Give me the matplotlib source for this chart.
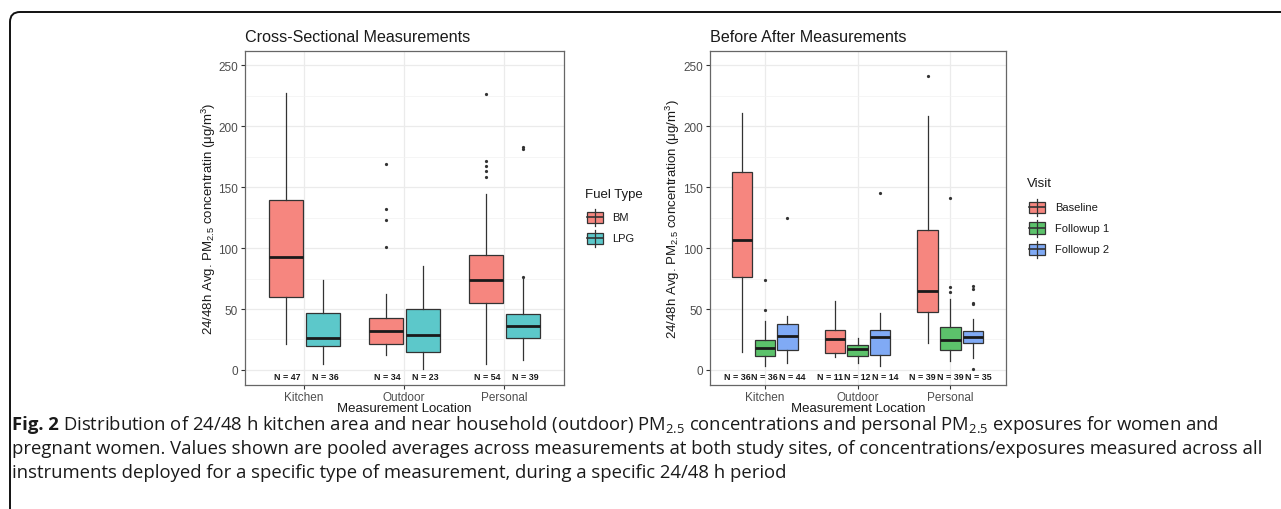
import matplotlib
matplotlib.use("Agg")
import matplotlib.pyplot as plt
from matplotlib.patches import FancyBboxPatch, Rectangle
from matplotlib.lines import Line2D

plt.rcParams["font.family"] = ["Liberation Sans", "DejaVu Sans"]
plt.rcParams["mathtext.default"] = "regular"

# ---- data: cross-sectional panel ----
locations = ["Kitchen", "Outdoor", "Personal"]
fuel_types = ["BM", "LPG"]

bm_whislo = [21, 12, 5]
bm_q1 = [60, 21, 55]
bm_med = [92.5, 32, 74]
bm_q3 = [139, 43, 94.5]
bm_whishi = [227, 62, 144]
bm_fliers = [[], [169, 132, 123, 101], [226.5, 171.5, 167.5, 163, 158]]
bm_n = [47, 34, 54]

lpg_whislo = [5, 0.5, 8]
lpg_q1 = [20, 14.5, 26]
lpg_med = [26.5, 28.5, 36.3]
lpg_q3 = [46.5, 50, 46]
lpg_whishi = [74, 85, 75]
lpg_fliers = [[], [], [182.5, 181, 76.5]]
lpg_n = [36, 23, 39]

# ---- data: before / after panel ----
visits = ["Baseline", "Followup 1", "Followup 2"]

base_whislo = [15, 11, 22.5]
base_q1 = [76, 13.7, 47.8]
base_med = [106.5, 25, 65]
base_q3 = [162, 32.5, 115]
base_whishi = [211, 56.5, 208]
base_fliers = [[], [], [241]]
base_n = [36, 11, 39]

f1_whislo = [3, 5.5, 7]
f1_q1 = [11.7, 11.2, 16.7]
f1_med = [18.3, 17.5, 24.6]
f1_q3 = [24.6, 20.5, 35]
f1_whishi = [40.5, 26.5, 58.5]
f1_fliers = [[74, 49.5], [], [141, 68, 64]]
f1_n = [36, 12, 39]

f2_whislo = [5.5, 3, 10]
f2_q1 = [16.7, 12.3, 22]
f2_med = [27.6, 26.8, 26.8]
f2_q3 = [38, 33, 32.2]
f2_whishi = [44, 46.7, 42]
f2_fliers = [[124.5], [144.8], [69, 66, 54.6, 53.8, 0.8]]
f2_n = [44, 14, 35]

# ggplot hues, already lightened like the alpha fill in the original
pink = "#F6867F"
teal = "#5CC8CA"
green = "#5CC26B"
blue = "#80AAF5"

W, H = 1281, 510


def fx(x):
    return x / W


def fy(y):
    return 1 - y / H


def stats(whislo, q1, med, q3, whishi, fliers):
    return [dict(whislo=a, q1=b, med=c, q3=d, whishi=e, fliers=f)
            for a, b, c, d, e, f in zip(whislo, q1, med, q3, whishi, fliers)]


def draw_panel(ax, groups, offsets, n_offsets, width, title, ylabel, ylab_x):
    xs = [1, 2, 3]
    for (st, col, ns), off, noff in zip(groups, offsets, n_offsets):
        pos = [x + off for x in xs]
        ax.bxp(st, positions=pos, widths=width, patch_artist=True,
               showcaps=False, manage_ticks=False,
               boxprops=dict(facecolor=col, edgecolor="#333333", linewidth=0.9),
               whiskerprops=dict(color="#333333", linewidth=0.9),
               medianprops=dict(color="#1a1a1a", linewidth=2.0),
               flierprops=dict(marker="o", markersize=1.3, markerfacecolor="#333333",
                               markeredgecolor="#333333", linestyle="none"))
        # sample sizes under each box
        for x, n in zip(xs, ns):
            ax.text(x + noff, -5, f"N = {n}", ha="center", va="center", fontsize=6.4,
                    fontweight="bold", color="#1a1a1a")
    ax.set_xlim(0.41, 3.6)
    ax.set_ylim(-12.3, 261.5)
    ax.set_xticks(xs)
    ax.set_xticklabels(locations)
    ax.set_yticks([0, 50, 100, 150, 200, 250])
    ax.set_yticks([25, 75, 125, 175, 225], minor=True)
    ax.tick_params(axis="both", which="major", labelsize=8.5, labelcolor="#4D4D4D",
                   color="#333333", length=3, width=0.8, pad=2)
    ax.tick_params(axis="x", which="major", pad=1.5)
    ax.tick_params(axis="y", which="minor", length=0)
    ax.grid(True, which="major", color="#EBEBEB", linewidth=0.9)
    ax.grid(True, which="minor", axis="y", color="#F2F2F2", linewidth=0.5)
    ax.set_axisbelow(True)
    for s in ax.spines.values():
        s.set_color("#666666")
        s.set_linewidth(0.9)
    ax.set_xlabel("Measurement Location", fontsize=9.5, color="#1a1a1a", labelpad=-1)
    ax.set_ylabel(ylabel, fontsize=9.5, color="#1a1a1a")
    ax.yaxis.set_label_coords(ylab_x, 0.5)
    ax.set_title(title, loc="left", fontsize=11.6, color="#1a1a1a", pad=7)


def legend_key(fig, x, y, col):
    # ggplot style boxplot key, x/y = pixel centre
    w, h = 16, 11
    fig.add_artist(Line2D([fx(x), fx(x)], [fy(y - h / 2 - 3), fy(y + h / 2 + 3)],
                          transform=fig.transFigure, color="#333333", lw=0.9))
    fig.add_artist(Rectangle((fx(x - w / 2), fy(y + h / 2)), w / W, h / H,
                             transform=fig.transFigure, facecolor=col,
                             edgecolor="#333333", lw=0.9))
    fig.add_artist(Line2D([fx(x - w / 2), fx(x + w / 2)], [fy(y), fy(y)],
                          transform=fig.transFigure, color="#333333", lw=1.2))


def main():
    fig = plt.figure(figsize=(W / 100, H / 100), dpi=100)

    # outer frame with rounded corner
    frame = FancyBboxPatch((fx(10), fy(560)), (W + 40) / W, 547 / H,
                           boxstyle=f"round,pad=0,rounding_size={10 / W}",
                           mutation_aspect=W / H, transform=fig.transFigure,
                           facecolor="none", edgecolor="#111111", lw=1.4, clip_on=False)
    fig.add_artist(frame)

    ax1 = fig.add_axes([fx(245), fy(386), (564 - 245) / W, (386 - 52) / H])
    ax2 = fig.add_axes([fx(710), fy(386), (1006 - 710) / W, (386 - 52) / H])

    cross = [
        (stats(bm_whislo, bm_q1, bm_med, bm_q3, bm_whishi, bm_fliers), pink, bm_n),
        (stats(lpg_whislo, lpg_q1, lpg_med, lpg_q3, lpg_whishi, lpg_fliers), teal, lpg_n),
    ]
    before = [
        (stats(base_whislo, base_q1, base_med, base_q3, base_whishi, base_fliers), pink, base_n),
        (stats(f1_whislo, f1_q1, f1_med, f1_q3, f1_whishi, f1_fliers), green, f1_n),
        (stats(f2_whislo, f2_q1, f2_med, f2_q3, f2_whishi, f2_fliers), blue, f2_n),
    ]
    draw_panel(ax1, cross, [-0.18, 0.19], [-0.17, 0.21], 0.34,
               "Cross-Sectional Measurements",
               "24/48h Avg. PM$_{2.5}$ concentratin (μg/m$^3$)", (218 - 245) / 319)
    draw_panel(ax2, before, [-0.245, 0.0, 0.245], [-0.30, 0.0, 0.30], 0.22,
               "Before After Measurements",
               "24/48h Avg. PM$_{2.5}$ concentration (μg/m$^3$)", (682 - 710) / 296)

    # legends
    fig.text(fx(585), fy(195), "Fuel Type", fontsize=9.5, color="#1a1a1a", va="center")
    for lab, col, y in zip(fuel_types, [pink, teal], [218, 239]):
        legend_key(fig, 595, y, col)
        fig.text(fx(612), fy(y), lab, fontsize=8, color="#1a1a1a", va="center")

    fig.text(fx(1027), fy(184), "Visit", fontsize=9.5, color="#1a1a1a", va="center")
    for lab, col, y in zip(visits, [pink, green, blue], [208, 229, 250]):
        legend_key(fig, 1037, y, col)
        fig.text(fx(1055), fy(y), lab, fontsize=8, color="#1a1a1a", va="center")

    # caption
    cap_font = ["Open Sans", "DejaVu Sans"]
    cap_size = 13.3
    renderer = fig.canvas.get_renderer()
    t = fig.text(fx(12), fy(430), "Fig. 2", fontsize=cap_size, fontweight="bold",
                 family=cap_font, color="#1a1a1a", va="baseline")
    bb = t.get_window_extent(renderer=renderer)
    fig.text(bb.x1 / W + 4 / W, fy(430),
             "Distribution of 24/48 h kitchen area and near household (outdoor) PM$_{2.5}$ "
             "concentrations and personal PM$_{2.5}$ exposures for women and",
             fontsize=cap_size, family=cap_font, color="#1a1a1a", va="baseline")
    fig.text(fx(12), fy(454),
             "pregnant women. Values shown are pooled averages across measurements at both "
             "study sites, of concentrations/exposures measured across all",
             fontsize=cap_size, family=cap_font, color="#1a1a1a", va="baseline")
    fig.text(fx(12), fy(478),
             "instruments deployed for a specific type of measurement, during a specific "
             "24/48 h period",
             fontsize=cap_size, family=cap_font, color="#1a1a1a", va="baseline")

    fig.savefig("out.png", dpi=100)


if __name__ == "__main__":
    main()
